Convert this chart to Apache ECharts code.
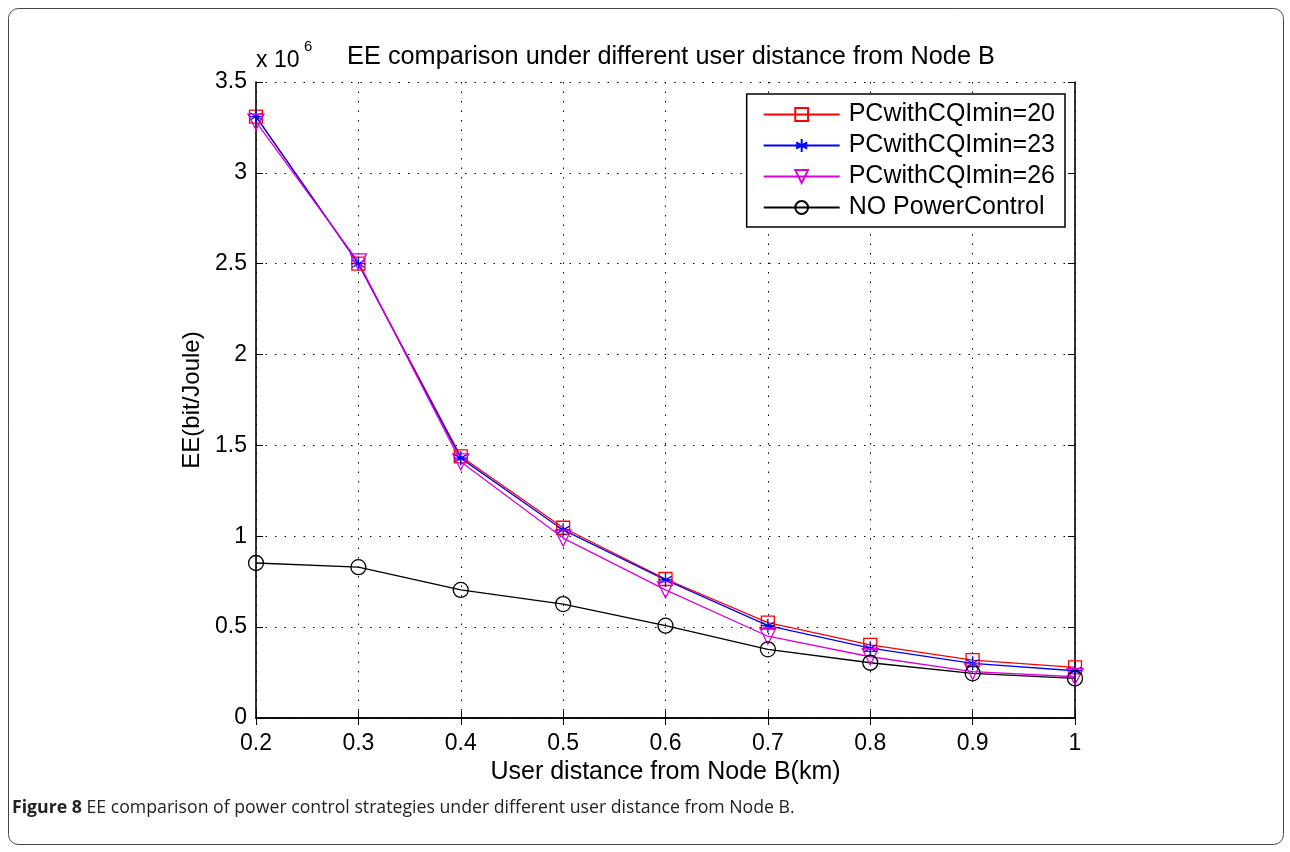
<!DOCTYPE html>
<html><head><meta charset="utf-8">
<script src="https://cdn.jsdelivr.net/npm/echarts@6/dist/echarts.min.js"></script>
<style>html,body{margin:0;padding:0;background:#fff;}#c{width:1290px;height:852px;}</style>
</head><body><div id="c"></div>
<script>
// Data (EE in units of 10^6 bit/Joule)
const distances = [0.2, 0.3, 0.4, 0.5, 0.6, 0.7, 0.8, 0.9, 1.0];
const pc20 = [3.31, 2.50, 1.44, 1.047, 0.765, 0.525, 0.402, 0.319, 0.279];
const pc23 = [3.31, 2.50, 1.43, 1.035, 0.760, 0.508, 0.384, 0.301, 0.260];
const pc26 = [3.28, 2.51, 1.41, 0.990, 0.705, 0.450, 0.337, 0.255, 0.227];
const noPC = [0.853, 0.830, 0.705, 0.627, 0.508, 0.378, 0.304, 0.246, 0.218];
const seriesNames = ['PCwithCQImin=20', 'PCwithCQImin=23', 'PCwithCQImin=26', 'NO PowerControl'];
const yTicks = [0, 0.5, 1, 1.5, 2, 2.5, 3, 3.5];

const FONT = '"Liberation Sans", Arial, Helvetica, sans-serif';
const pairs = a => distances.map((d, i) => [d, a[i]]);
const rectPath = 'path://M0,0 L10,0 L10,10 L0,10 Z';
const starPath = 'path://M5,0 L5,10 M0.67,2.5 L9.33,7.5 M0.67,7.5 L9.33,2.5 M0,5 L10,5';
const triPath = 'path://M0,0 L10,0 L5,9 Z';
const circPath = 'circle';

function mk(name, data, color, symbol, size) {
  return {
    name, type: 'line', data: pairs(data), symbol, symbolSize: size,
    lineStyle: { color, width: 1.3 },
    itemStyle: { color: 'rgba(0,0,0,0)', borderColor: color, borderWidth: 1.3 },
    emphasis: { disabled: true }, animation: false, z: 3
  };
}

const chart = echarts.init(document.getElementById('c'), null, { renderer: 'canvas' });
const axisLine = { show: true, lineStyle: { color: '#000', width: 1.6 } };
const tickIn = { show: true, inside: true, length: 7, lineStyle: { color: '#000', width: 1 } };
const labelFont = { color: '#000', fontFamily: FONT, fontSize: 23 };

chart.setOption({
  animation: false,
  backgroundColor: '#fff',
  title: {
    text: 'EE comparison under different user distance from Node B',
    left: 666, top: 40, textAlign: 'center',
    textStyle: { fontFamily: FONT, fontSize: 25.3, fontWeight: 'normal', color: '#000' }
  },
  grid: { left: 256, right: 215, top: 82, bottom: 134, containLabel: false },
  legend: {
    data: seriesNames, orient: 'vertical', right: 225, top: 94,
    itemWidth: 76, itemHeight: 16, itemGap: 6,
    padding: [8, 10, 7, 16],
    backgroundColor: '#fff', borderColor: '#000', borderWidth: 1.5,
    textStyle: { fontFamily: FONT, fontSize: 25, lineHeight: 25, color: '#000', padding: [0, 0, 0, 4] },
    selectedMode: false
  },
  xAxis: [
    { type: 'value', min: 0.2, max: 1, interval: 0.1, position: 'bottom',
      axisLine, axisTick: tickIn,
      axisLabel: { ...labelFont, margin: 14, formatter: v => String(parseFloat(v.toFixed(2))) },
      splitLine: { show: true, lineStyle: { color: '#000', width: 1, type: [1.5, 8] } },
      name: 'User distance from Node B(km)', nameLocation: 'middle', nameGap: 42,
      nameTextStyle: { fontFamily: FONT, fontSize: 25, color: '#000' } },
    { type: 'value', min: 0.2, max: 1, interval: 0.1, position: 'top',
      axisLine, axisTick: tickIn, axisLabel: { show: false }, splitLine: { show: false } }
  ],
  yAxis: [
    { type: 'value', min: 0, max: 3.5, interval: 0.5, position: 'left',
      axisLine, axisTick: tickIn,
      axisLabel: { ...labelFont, margin: 9, formatter: v => String(parseFloat(v.toFixed(2))) },
      splitLine: { show: true, lineStyle: { color: '#000', width: 1, type: [1.5, 8] } },
      name: 'EE(bit/Joule)', nameLocation: 'middle', nameGap: 44, nameRotate: 90,
      nameTextStyle: { fontFamily: FONT, fontSize: 24, color: '#000' } },
    { type: 'value', min: 0, max: 3.5, interval: 0.5, position: 'right',
      axisLine, axisTick: tickIn, axisLabel: { show: false }, splitLine: { show: false } }
  ],
  series: [
    mk(seriesNames[0], pc20, '#ff0000', rectPath, 13),
    mk(seriesNames[1], pc23, '#0000ff', starPath, 14),
    mk(seriesNames[2], pc26, '#dd00dd', triPath, 16),
    mk(seriesNames[3], noPC, '#000000', circPath, 15)
  ],
  graphic: [
    { type: 'rect', shape: { x: 8.5, y: 8.5, width: 1275, height: 836, r: 10 },
      style: { fill: 'none', stroke: '#444', lineWidth: 1 }, silent: true, z: -10 },
    { type: 'text', left: 256, top: 49,
      style: { text: 'x 10', fontFamily: FONT, fontSize: 23, fill: '#000' } },
    { type: 'text', left: 304, top: 39,
      style: { text: '6', fontFamily: FONT, fontSize: 15, fill: '#000' } },
    { type: 'text', left: 12, top: 799,
      style: {
        text: '{b|Figure 8} EE comparison of power control strategies under different user distance from Node B.',
        fontFamily: '"Open Sans", sans-serif', fontSize: 17.7, fill: '#222',
        rich: { b: { fontWeight: 'bold', fontFamily: '"Open Sans", sans-serif', fontSize: 17.7, fill: '#222' } }
      } }
  ]
});
</script></body></html>
